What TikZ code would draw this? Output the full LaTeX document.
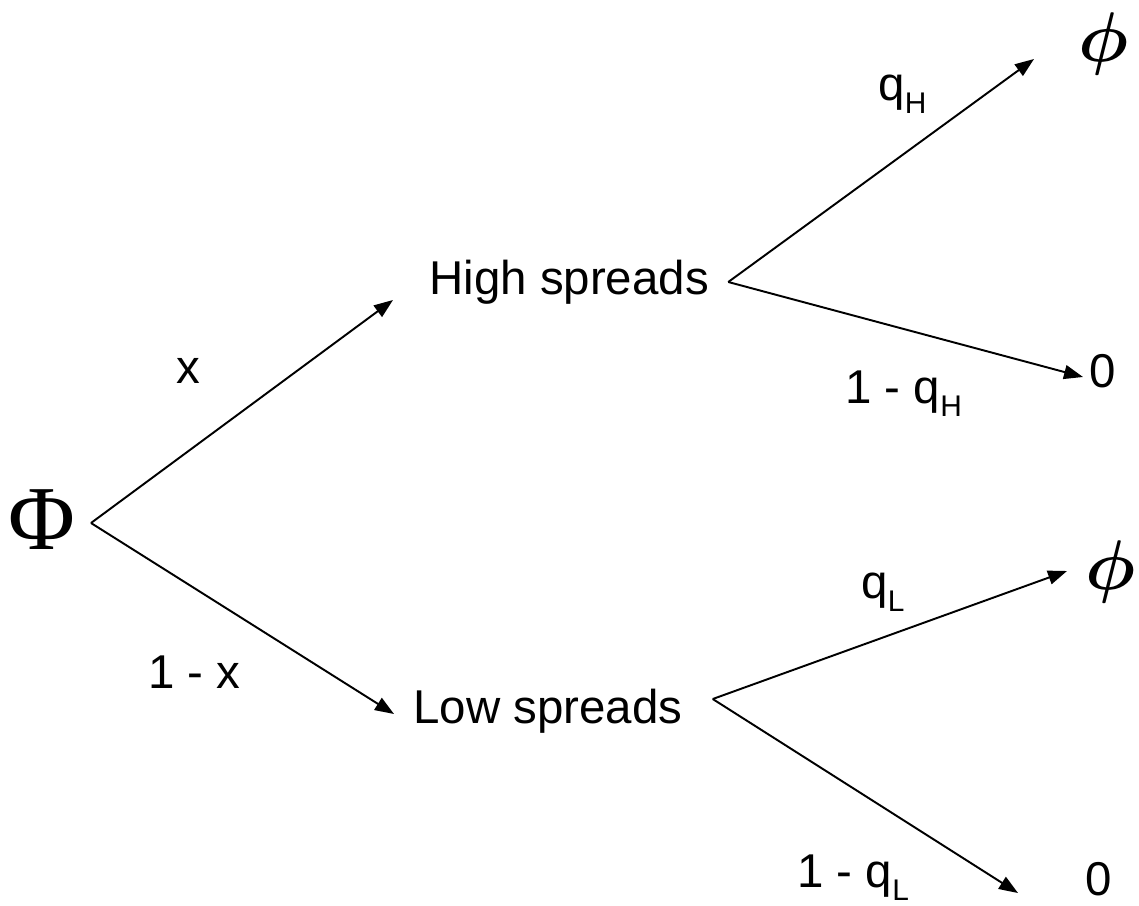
\documentclass[tikz,border=0pt]{standalone}
\usepackage{fontspec}
\setmainfont{Liberation Sans}
\newfontfamily\greekserif{Liberation Serif}
\usetikzlibrary{arrows.meta,calc}
\newcommand{\lowsub}[1]{\raisebox{-0.26cm}{\fontsize{17}{20}\selectfont #1}}

\begin{document}
\begin{tikzpicture}[
  lbl/.style={font=\fontsize{27}{32}\selectfont, inner sep=0pt},
  leaf/.style={inner sep=0pt},
  arr/.style={line width=1.1pt, -{Triangle[length=0.38cm,width=0.28cm]}}
]
\useasboundingbox (0,0) rectangle (22.78,-18.10);
\node[inner sep=0pt, font=\greekserif\fontsize{52}{60}\selectfont] (root) at (0.84,-10.40) {Φ};
\node[lbl, anchor=base west] (high) at (8.58,-5.88) {High spreads};
\node[lbl, anchor=base west] (low) at (8.26,-14.46) {Low spreads};
\node[leaf] (hphi) at (22.08,-0.88) {\scalebox{4.0}{\boldmath$\phi$}};
\node[lbl, anchor=base west] (hzero) at (21.78,-7.74) {0};
\node[leaf] (lphi) at (22.22,-11.44) {\scalebox{4.0}{\boldmath$\phi$}};
\node[lbl, anchor=base west] (lzero) at (21.70,-17.90) {0};
\node[lbl, anchor=base west] (px) at (3.52,-7.66) {x};
\node[lbl, anchor=base west] (pnx) at (2.96,-13.76) {1 - x};
\node[lbl, anchor=base west] (pqh) at (17.56,-2.00) {q\lowsub{H}};
\node[lbl, anchor=base west] (pnqh) at (16.90,-8.06) {1 - q\lowsub{H}};
\node[lbl, anchor=base west] (pql) at (17.22,-11.96) {q\lowsub{L}};
\node[lbl, anchor=base west] (pnql) at (15.94,-17.74) {1 - q\lowsub{L}};
\draw[arr] ($(root.center)+(0.98,-0.06)$) -- ($(high.base west)+(-0.72,-0.12)$);
\draw[arr] ($(root.center)+(0.98,-0.06)$) -- ($(low.base west)+(-0.38,0.18)$);
\draw[arr] ($(high.base east)+(0.38,0.24)$) -- ($(hphi.center)+(-1.40,-0.30)$);
\draw[arr] ($(high.base east)+(0.38,0.24)$) -- ($(hzero.base west)+(-0.12,0.20)$);
\draw[arr] ($(low.base east)+(0.60,0.48)$) -- ($(lphi.center)+(-0.88,0.02)$);
\draw[arr] ($(low.base east)+(0.60,0.48)$) -- ($(lzero.base west)+(-1.34,0.04)$);
\end{tikzpicture}
\end{document}
